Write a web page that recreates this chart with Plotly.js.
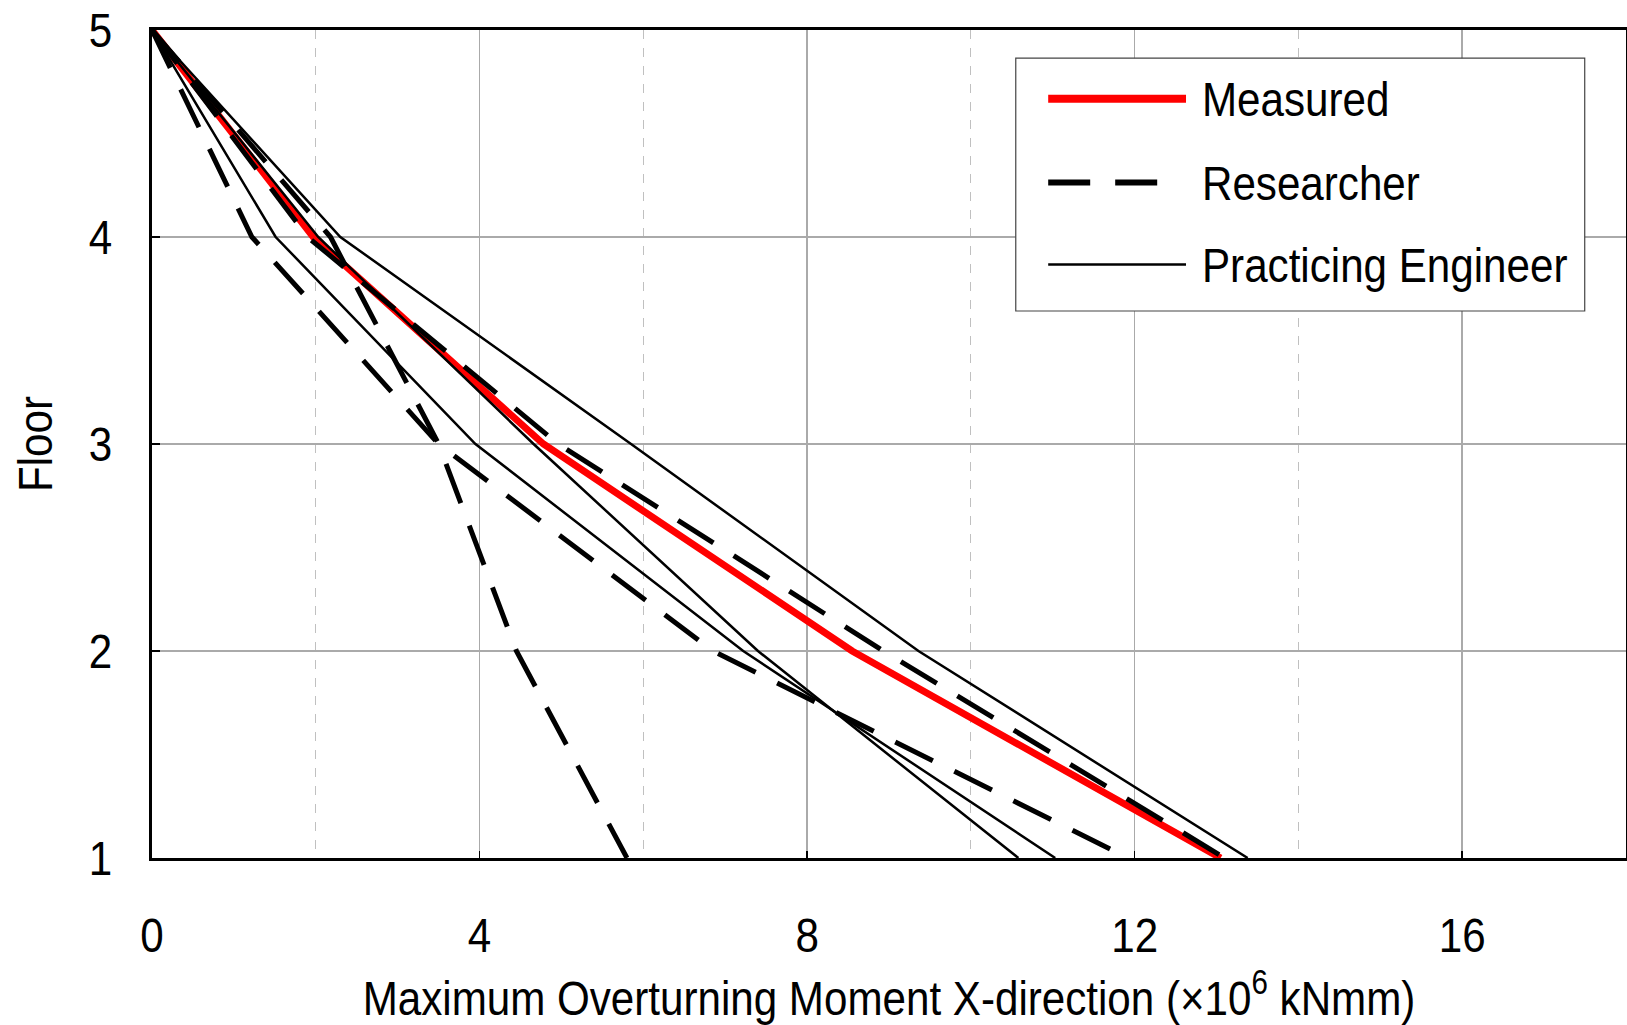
<!DOCTYPE html>
<html>
<head>
<meta charset="utf-8">
<script src="https://cdn.plot.ly/plotly-3.0.1.min.js"></script>
<style>html,body{margin:0;padding:0;background:#fff;}#chart{width:1627px;height:1025px;}</style>
</head>
<body>
<div id="chart"></div>
<script>
// Floors (y) and overturning moment values (x, ×10^6 kNmm)
const floors = [5, 4, 3, 2, 1];
const measured = [0, 1.97, 4.78, 8.55, 13.05];
const researcherA = [0, 2.18, 3.5, 4.45, 5.8];
const researcherB = [0, 1.22, 3.5, 6.85, 11.92];
const researcherC = [0, 1.9, 4.96, 8.93, 13.1];
const engineerA = [0, 2.3, 5.85, 9.36, 13.38];
const engineerB = [0, 1.51, 3.95, 7.22, 11.03];
const engineerC = [0, 2.03, 4.66, 7.4, 10.58];
const legendNames = ["Measured", "Researcher", "Practicing Engineer"];
const xTickVals = [0, 4, 8, 12, 16];
const yTickVals = [1, 2, 3, 4, 5];

const FONT = "'Liberation Sans', Arial, sans-serif";
const FSIZE = 49;
const SQUEEZE = 0.86;
const DASH = "42px,24px";

const red = {color: "#ff0000", width: 7};
const dashed = {color: "#000000", width: 5, dash: DASH};
const thin = {color: "#000000", width: 2.5};

const traces = [];
traces.push({x: measured, y: floors, mode: "lines", line: red, name: legendNames[0], showlegend: false});
[researcherA, researcherB, researcherC].forEach(s => traces.push({x: s, y: floors, mode: "lines", line: dashed, name: legendNames[1], showlegend: false}));
[engineerA, engineerB, engineerC].forEach(s => traces.push({x: s, y: floors, mode: "lines", line: thin, name: legendNames[2], showlegend: false}));

// custom legend (long line samples)
const lx0 = 0.608, lx1 = 0.7015, ltx = 0.711;
const rows = [0.917, 0.8157, 0.7167];
const shapes = [
  {type: "rect", xref: "paper", yref: "paper", x0: 0.586, x1: 0.972, y0: 0.6606, y1: 0.966,
   line: {color: "#444", width: 1.2}, fillcolor: "#ffffff", layer: "above"},
  {type: "line", xref: "paper", yref: "paper", x0: lx0, x1: lx1, y0: rows[0], y1: rows[0], line: {color: "#ff0000", width: 8}, layer: "above"},
  {type: "line", xref: "paper", yref: "paper", x0: lx0, x1: lx1 - 0.016, y0: rows[1], y1: rows[1], line: {color: "#000", width: 6, dash: "42px,25px"}, layer: "above"},
  {type: "line", xref: "paper", yref: "paper", x0: lx0, x1: lx1, y0: rows[2], y1: rows[2], line: {color: "#000", width: 2.5}, layer: "above"}
];
const annotations = legendNames.map((n, i) => ({
  xref: "paper", yref: "paper", x: ltx, y: rows[i], xanchor: "left", yanchor: "middle",
  text: n, showarrow: false, font: {family: FONT, size: FSIZE, color: "#000"}
}));

const layout = {
  width: 1627, height: 1025,
  margin: {l: 152, r: 1, t: 30, b: 167},
  paper_bgcolor: "#fff", plot_bgcolor: "#fff",
  font: {family: FONT, size: FSIZE, color: "#000"},
  showlegend: false,
  xaxis: {
    range: [0, 18], tickvals: xTickVals, ticktext: xTickVals.map(String),
    showgrid: true, gridcolor: "#aaaaaa", gridwidth: 1.5,
    minor: {dtick: 2, tick0: 0, showgrid: true, griddash: "dash", gridcolor: "#c0c0c0", gridwidth: 1, ticks: ""},
    zeroline: false, showline: true, mirror: true, linecolor: "#000", linewidth: 3,
    ticks: "inside", ticklen: 7, tickwidth: 1.5, tickcolor: "#000",
    ticklabelstandoff: 32,
    tickfont: {family: FONT, size: FSIZE},
    title: {text: "Maximum Overturning Moment X-direction (×10<sup>6</sup> kNmm)", font: {family: FONT, size: FSIZE}, standoff: 28}
  },
  yaxis: {
    range: [1, 5], tickvals: yTickVals, ticktext: yTickVals.map(String),
    showgrid: true, gridcolor: "#aaaaaa", gridwidth: 1.5,
    zeroline: false, showline: true, mirror: true, linecolor: "#000", linewidth: 3,
    ticks: "inside", ticklen: 8, tickwidth: 1.5, tickcolor: "#000",
    ticklabelstandoff: 27,
    tickfont: {family: FONT, size: FSIZE},
    title: {text: "Floor", font: {family: FONT, size: FSIZE}, standoff: 17}
  },
  shapes: shapes,
  annotations: annotations
};

// narrow the lettering (the reference uses a condensed face)
function condense() {
  document.querySelectorAll("#chart svg text").forEach(el => {
    if (!el.textContent || !el.textContent.trim()) return;
    const w = el.getComputedTextLength();
    if (!(w > 0)) return;
    el.setAttribute("textLength", (w * SQUEEZE).toFixed(2));
    el.setAttribute("lengthAdjust", "spacingAndGlyphs");
    // legend texts are left-anchored: keep their left edge in place
    if (el.classList.contains("annotation-text") && el.getAttribute("text-anchor") === "middle") {
      const x = parseFloat(el.getAttribute("x")) || 0;
      el.setAttribute("x", (x - w * (1 - SQUEEZE) / 2).toFixed(2));
    }
  });
}

Plotly.newPlot("chart", traces, layout, {displayModeBar: false, staticPlot: true}).then(condense);
</script>
</body>
</html>
